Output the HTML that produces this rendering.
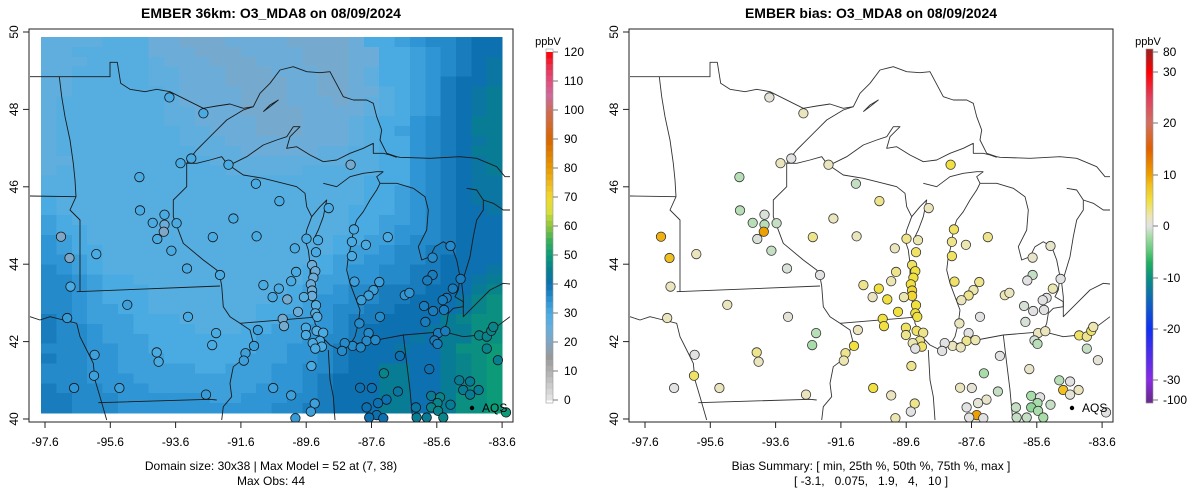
<!DOCTYPE html>
<html><head><meta charset="utf-8"><title>EMBER O3_MDA8</title>
<style>
html,body{margin:0;padding:0;background:#fff;}
svg{display:block;font-family:"Liberation Sans",Arial,sans-serif;}
</style></head>
<body>
<svg id="fig" width="1200" height="502" viewBox="0 0 1200 502" xmlns="http://www.w3.org/2000/svg">
<defs>
<clipPath id="clipBox"><rect x="29" y="29" width="484" height="393"/></clipPath>
<clipPath id="clipBox2"><rect x="629" y="29" width="484" height="393"/></clipPath>
</defs>
<g id="panelL"></g>
<g id="panelR"></g>
<text x="271" y="18" text-anchor="middle" font-size="14" font-weight="bold">EMBER 36km: O3_MDA8 on 08/09/2024</text>
<text x="871" y="18" text-anchor="middle" font-size="14" font-weight="bold">EMBER bias: O3_MDA8 on 08/09/2024</text>
<text x="271" y="470" text-anchor="middle" font-size="12">Domain size: 30x38 | Max Model = 52 at (7, 38)</text>
<text x="271" y="485" text-anchor="middle" font-size="12">Max Obs: 44</text>
<text x="871" y="470" text-anchor="middle" font-size="12">Bias Summary: [ min, 25th %, 50th %, 75th %, max ]</text>
<text x="871" y="485" text-anchor="middle" font-size="12" xml:space="preserve">[ -3.1,   0.075,   1.9,   4,   10 ]</text>
</svg>
<script>
// ---------- DATA ----------
const xTicks = [-97.6,-95.6,-93.6,-91.6,-89.6,-87.6,-85.6,-83.6];
const yTicks = [40,42,44,46,48,50];
const modelTicks = [0,10,20,30,40,50,60,70,80,90,100,110,120];
const biasTicks = [-100,-30,-20,-10,0,10,20,30,80];
// model grid rows (north->south), each char a level: a=20 ... step 2 ppbV
const gridRows = [
"ddddeeeccbbbccccbbbbcffghiijkk",
"ddeeeeecccbbbccccbbbccffghijkk",
"dddeeeedcccbbbcccbbbccffghijkl",
"ddeeeeeddcccbbbcccbbcdffghijkl",
"ddeeeeeddcccbbbbccbbcdffghjkkl",
"ddeeeeeedccccbbbccbbccefghjklm",
"deeeeeeedccccbbbcccbcdefghjklm",
"deeeeeeeddcccbbbbccccdefghjklm",
"deeeeeeeddccccbbbcccdeffhijkmm",
"deeeeeeeeddcccbbbcccdefghijkmm",
"deeeeeeeedddccccccccdeffhijklm",
"deeeeeeeeedddcccccddeeffhijkmm",
"ddeeeeeeeeedddddddddeeffhijklm",
"deeeeeeeeeeedddddeeeeeffhijklm",
"eeeeeeeeeeeeeeeeeeeeefffhijkll",
"eeeeeeeeeeeeeeeeeeeeeffghijkll",
"feeeeeeeeeeeeeeeeeeeeffghijkll",
"feeeeeeeeeeeeeeeeeeefffghijkkl",
"gfeeeeeeeeeeeeeeeeeeffgghijkkk",
"gffeeeeeeeeeeeeeeeeeffghhijkkk",
"hgfeeeeeeeeeeeeeeeeffgghiijkkk",
"hgffeeeeeeeeeeeeeeefgghiijjkkk",
"hhgfeeeeeeeeeeeeeefgghhiijkkkk",
"ihgfeeeeeeeeeeeeeffghhiijjkkkl",
"iihgffeeeeeeeeeeefgghhiijjkklm",
"iihgfffeeeeeeeeefgghiijjjkkkmn",
"iihgfffeeeeeeeeffghhiijjkkklno",
"iihggffeeeeeeefffghiijjkkkklno",
"jihgggfffeeeeeffgghijjkkkkmnoo",
"jiihggffffeeeffgghhijkkkklmmoo",
"jiihgggfffffffggghiijkkklkmmoo",
"iiihhggfffffffgghhijkkklkkmoop",
"jiihhgggfffffggghhijkkkkkkmnop",
"iiihhgggggffggghhiijkkmmkkmnop",
"iiihhhggggggggghhijkkkmmkkmnop",
"jiiihhhggggggghhhijkkkmmkkmnop",
"jjiiihhhhhhgghhhiijkkkmmkkmoop",
"jjiiihhhhhhhhhhiijjkkkmmkkmoop"];
const stationLon = [-93.79,-92.75,-93.45,-93.12,-91.98,-94.71,-91.14,-90.42,-88.24,-94.69,-93.94,-94.30,-93.94,-93.57,-93.96,-94.16,-93.73,-97.11,-96.85,-96.03,-93.25,-92.24,-96.82,-91.83,-92.46,-91.12,-89.95,-89.59,-89.24,-89.30,-89.42,-89.32,-89.38,-89.91,-90.06,-89.46,-89.42,-89.42,-89.67,-90.91,-90.44,-90.63,-90.18,-89.30,-89.85,-89.32,-89.26,-90.32,-90.28,-89.61,-89.61,-89.28,-89.08,-89.18,-89.40,-89.12,-89.32,-88.91,-88.14,-88.20,-87.77,-88.20,-87.10,-88.12,-87.36,-87.54,-87.69,-87.91,-86.58,-86.44,-85.18,-85.73,-85.73,-85.89,-84.87,-85.11,-85.30,-85.42,-85.99,-85.71,-85.38,-87.34,-87.97,-85.95,-87.69,-87.75,-87.48,-88.18,-88.42,-88.50,-87.93,-85.56,-85.34,-85.67,-85.58,-84.30,-84.07,-83.93,-83.87,-84.07,-83.73,-86.73,-85.83,-87.22,-84.91,-84.58,-84.79,-84.32,-84.58,-87.95,-87.59,-86.79,-87.14,-87.40,-87.75,-87.44,-85.77,-85.50,-85.58,-85.77,-85.56,-85.18,-86.24,-89.44,-90.61,-90.06,-89.34,-89.46,-92.67,-95.32,-96.71,-96.10,-96.08,-96.92,-95.08,-93.22,-92.36,-92.48,-94.18,-94.12,-91.08,-91.20,-91.46,-91.51,-83.48,-89.93,-86.22,-85.91,-85.40,-87.67,-87.24];
const stationLat = [48.31,47.90,46.61,46.73,46.57,46.25,46.08,45.63,46.57,45.39,45.28,45.07,45.02,45.06,44.84,44.65,44.35,44.71,44.16,44.26,43.89,43.72,43.42,45.18,44.70,44.72,44.41,44.66,44.62,44.31,43.98,43.82,43.65,43.80,43.56,43.48,43.32,43.18,43.15,43.46,43.37,43.15,43.09,42.94,42.77,42.73,42.64,42.59,42.40,42.36,42.17,42.28,42.23,42.02,41.96,41.87,41.82,45.45,44.90,44.58,44.50,44.21,44.70,43.55,43.54,43.33,43.19,43.07,43.20,43.26,44.47,44.17,43.72,43.58,43.62,43.37,43.13,43.07,42.92,42.79,42.82,42.64,42.47,42.51,42.22,42.02,42.04,41.89,41.96,41.76,41.85,42.22,42.27,42.03,41.94,42.16,42.13,42.28,42.38,41.82,41.52,41.63,41.29,41.18,41.00,40.97,40.75,40.75,40.63,40.81,40.80,40.71,40.50,40.41,40.30,40.10,40.60,40.56,40.41,40.30,40.21,40.37,40.30,41.37,40.80,40.61,40.40,40.19,40.63,40.80,40.80,41.12,41.66,42.61,42.95,42.64,42.22,41.91,41.72,41.48,42.30,41.89,41.70,41.51,40.17,40.02,40.04,40.04,40.04,40.04,40.02];
const obsValues = [30,30,30,30,30,30,30,30,22,30,30,30,24,30,20,30,30,20,20,30,30,30,30,30,30,30,30,30,30,30,24,24,24,30,30,24,24,24,28,30,30,30,22,28,24,28,28,22,22,30,30,28,30,30,30,30,30,30,30,30,30,30,30,32,32,32,32,32,34,34,36,36,38,38,38,38,38,38,38,38,38,36,36,38,36,36,36,36,36,36,36,38,38,38,38,46,46,46,46,46,45,40,40,46,44,44,44,44,44,40,40,42,40,40,40,40,44,46,46,46,46,44,42,30,32,32,32,32,33,32,34,32,32,33,32,30,30,30,30,30,32,32,32,32,50,33,44,44,46,40,40];
const biasValues = [0.5,1.5,1.5,0,1.5,-1.5,-1,3,5,-1.5,-0.3,-1.5,-1.5,-1,10,-0.3,-1,9,8,1.5,-0.3,0,1.5,1.5,3,1.5,1.5,3,2,4,4,5,5,3,2,5,6,6,2,3,5,1.5,5,5,5,5,5,5,5,4,3,4,3,3,2,4,0,1.5,4,3,2,4,3,4,3,2,3,1.5,2,1.5,1,1,-1,0,0,2,0,0,-0.5,0,0,0,1.5,-0.5,0,3,2,1.5,0,0,1.5,1.5,1.5,-0.5,-1.5,4,3,4,2,-1,0.5,0,1,-2,-1.5,0,8,1.5,0.5,1.5,0.5,-1,1,0.5,0,10,-2,0,-2,-3,-2,-1,-1,3,5,1.5,3,0,1.5,1.5,0,4,0,1.5,1.5,0.5,-1.5,-2,3,1.5,1.5,5,3,2,0,2,-1,-1,-2,0,0];

// ---------- SCALES ----------
const X = lon => 45 + (lon + 97.6) * 32.65;
const Y = lat => 419 - (lat - 40) * 38.7;
const gridLon0 = -97.72, gridLon1 = -83.60, gridLatTop = 49.87, gridLatBot = 40.155;

const modelStops = [[0,"#e6e6e6"],[10,"#b0b0b0"],[15,"#989898"],[20,"#7fa6c4"],[25,"#66afdd"],[30,"#4aabe2"],[35,"#2a90d0"],[40,"#0d70b0"],[45,"#087f8e"],[50,"#0c9a78"],[55,"#3aaf5a"],[60,"#8cc43f"],[65,"#d6df3c"],[70,"#f0d92c"],[75,"#eeb820"],[80,"#e69a00"],[90,"#d86500"],[100,"#cc6c5a"],[105,"#cc6a9a"],[110,"#e05080"],[115,"#e83050"],[120,"#ff0000"]];
const biasStops = [[-100,"#6a2a90"],[-30,"#8a2be2"],[-20,"#1030f0"],[-15,"#1060c0"],[-10,"#0a9080"],[-7,"#20b060"],[-5,"#5ac878"],[-2,"#a8dca8"],[0,"#e2e2e2"],[2,"#ece6b0"],[5,"#f0e040"],[8,"#f0c020"],[10,"#eea000"],[15,"#e06000"],[20,"#d07060"],[25,"#e04060"],[30,"#ff0000"],[80,"#a02020"]];
function hex(c){return [parseInt(c.substr(1,2),16),parseInt(c.substr(3,2),16),parseInt(c.substr(5,2),16)];}
function ramp(stops,v){
  if(v<=stops[0][0]) return stops[0][1];
  for(let i=1;i<stops.length;i++){
    if(v<=stops[i][0]){
      const t=(v-stops[i-1][0])/(stops[i][0]-stops[i-1][0]);
      const a=hex(stops[i-1][1]), b=hex(stops[i][1]);
      return "rgb("+a.map((x,k)=>Math.round(x+(b[k]-x)*t)).join(",")+")";
    }
  }
  return stops[stops.length-1][1];
}
const biasTickY = [400,380,329,278,226,175,123,72,52];
function biasY(v){
  for(let i=1;i<biasTicks.length;i++){
    if(v<=biasTicks[i]){const t=(v-biasTicks[i-1])/(biasTicks[i]-biasTicks[i-1]);return biasTickY[i-1]+(biasTickY[i]-biasTickY[i-1])*t;}
  }
  return 52;
}

// ---------- OUTLINES (basemap, traced) ----------
const outlines = [
[[0,140],[240,140],[240,97],[262,97],[272,160],[300,178],[345,185],[380,178],[420,185],[460,205],[490,220],[520,235],[560,228],[600,222],[640,235],[670,230],[690,190],[720,160],[750,120],[790,110],[830,125],[870,128],[900,125],[940,200],[970,210],[1010,210],[1030,220],[1040,260],[1055,300],[1050,330],[1070,370],[1100,380],[1110,382],[1200,385],[1290,380],[1340,385],[1400,410],[1425,440],[1440,440]],
[[670,230],[640,240],[590,270],[540,320],[500,360],[480,385],[470,400],[500,400],[540,390],[575,380],[590,400],[610,400],[650,380],[700,345],[740,330],[770,320],[790,290],[810,290],[780,320],[770,355],[800,350],[840,375],[880,395],[920,390],[960,370],[1000,355],[1030,340],[1030,370],[1060,370],[1080,375],[1100,382]],
[[700,245],[720,225],[745,210],[720,230],[700,245]],
[[596,405],[640,435],[700,445],[760,460],[800,470],[825,490],[830,530],[845,560],[830,600],[825,630],[835,660],[840,700],[840,760],[845,800],[850,840],[855,880],[870,910],[885,930],[900,945],[930,960],[960,945],[975,920],[985,880],[990,840],[975,800],[960,760],[950,720],[955,680],[965,640],[970,600],[980,570],[1000,545],[1020,510],[1040,480],[1050,460],[1040,440],[1060,425]],
[[845,560],[870,530],[890,510],[880,560],[865,600],[855,620]],
[[880,460],[920,470],[960,440],[1000,430],[1040,425],[1060,425]],
[[1050,460],[1100,460],[1150,475],[1185,500],[1195,540],[1190,600],[1165,650],[1175,690],[1200,680],[1215,650],[1240,635],[1265,650],[1280,690],[1290,740],[1285,780],[1275,800],[1300,815],[1300,830],[1270,835],[1255,850],[1250,880],[1240,905],[1260,910],[1300,920],[1350,915],[1400,890],[1440,860]],
[[1310,475],[1340,480],[1360,510],[1360,540],[1340,570],[1330,620],[1320,680],[1305,730],[1295,760],[1300,800],[1300,860],[1340,820],[1380,780],[1420,760],[1440,762]],
[[1360,510],[1390,520],[1420,540],[1440,540]],
[[88,140],[95,200],[105,260],[120,330],[130,400],[135,450],[138,500],[120,540],[150,570],[150,785]],
[[0,498],[138,500]],
[[140,785],[570,768]],
[[470,400],[470,470],[430,510],[430,560],[460,640],[520,690],[560,720],[570,740],[575,768],[580,830],[600,860],[630,880],[660,900],[670,940],[650,980],[610,1010],[600,1060],[605,1100],[580,1130],[575,1170]],
[[630,880],[850,862]],
[[0,860],[30,870],[60,860],[100,870],[140,880],[150,920],[170,960],[190,1000],[195,1050],[210,1100],[230,1170]],
[[205,1118],[540,1108],[560,1110]],
[[895,960],[900,1050],[910,1100],[915,1170]],
[[960,945],[1120,915],[1240,905]],
[[1120,915],[1130,1000],[1140,1080],[1148,1170]]
];

const NS="http://www.w3.org/2000/svg";
function mk(tag,attrs,parent){const e=document.createElementNS(NS,tag);for(const k in attrs)e.setAttribute(k,attrs[k]);parent.appendChild(e);return e;}

function drawPanel(g, off, isBias){
  const clip = isBias ? "url(#clipBox2)" : "url(#clipBox)";
  const plot = mk("g",{"clip-path":clip},g);
  
  
  if(!isBias){
    const grid = mk("g",{"shape-rendering":"crispEdges"},plot);
    
    
    const nr=gridRows.length, nc=gridRows[0].length;
    const dLon=(gridLon1-gridLon0)/nc, dLat=(gridLatTop-gridLatBot)/nr;
    for(let r=0;r<nr;r++)for(let c=0;c<nc;c++){
      const v=20+2*(gridRows[r].charCodeAt(c)-97);
      const x0=X(gridLon0+c*dLon)+off, x1=X(gridLon0+(c+1)*dLon)+off;
      const y0=Y(gridLatTop-r*dLat), y1=Y(gridLatTop-(r+1)*dLat);
      const cell=mk("rect",{x:x0.toFixed(2),y:y0.toFixed(2),width:(x1-x0+0.6).toFixed(2),height:(y1-y0+0.6).toFixed(2),fill:ramp(modelStops,v)},grid);
      
      
    }
  }
  const ol = mk("g",{fill:"none",stroke:isBias?"#333":"#1a1a1a","stroke-width":"0.9","stroke-linejoin":"round"},plot);
  
  
  outlines.forEach(line=>{
    const pts=line.map(p=>(off+30+p[0]/3).toFixed(1)+","+(30+p[1]/3).toFixed(1)).join(" ");
    const pl=mk("polyline",{points:pts},ol);
    
    
  });
  const st = mk("g",{},plot);
  
  
  for(let i=0;i<stationLon.length;i++){
    const col = isBias ? ramp(biasStops,biasValues[i]) : ramp(modelStops,obsValues[i]);
    const c=mk("circle",{cx:(X(stationLon[i])+off).toFixed(1),cy:Y(stationLat[i]).toFixed(1),r:"4.7",fill:col,stroke:isBias?"#333":"#111","stroke-width":"0.8"},st);
    
    
  }
  const lg=mk("circle",{cx:472+off,cy:408,r:"2.2",fill:"#000"},plot);
  
  
  const lt=mk("text",{x:482+off,y:412,"font-size":"12"},plot);lt.textContent="AQS";
  
  
  const box=mk("rect",{x:29+off,y:29,width:484,height:393,fill:"none",stroke:"#222","stroke-width":"1"},g);
  
  
  const xa=mk("g",{},g);
  
  
  mk("line",{x1:X(xTicks[0])+off,x2:X(xTicks[xTicks.length-1])+off,y1:422,y2:422,stroke:"#222"},xa);
  xTicks.forEach(t=>{
    const x=X(t)+off;
    mk("line",{x1:x,x2:x,y1:422,y2:428,stroke:"#222"},xa);
    const tx=mk("text",{x:x,y:446,"text-anchor":"middle","font-size":"12"},xa);tx.textContent=t.toFixed(1);
    
    
  });
  const ya=mk("g",{},g);
  
  
  mk("line",{x1:29+off,x2:29+off,y1:Y(40),y2:Y(50),stroke:"#222"},ya);
  yTicks.forEach(t=>{
    const y=Y(t);
    mk("line",{x1:23+off,x2:29+off,y1:y,y2:y,stroke:"#222"},ya);
    const tx=mk("text",{x:0,y:0,"text-anchor":"middle","font-size":"12",transform:"translate("+(18+off)+","+y+") rotate(-90)"},ya);tx.textContent=String(t);
    
    
  });
  const cb=mk("g",{},g);
  
  
  const cx0=546+off;
  if(!isBias){
    const y0=400, y1=52;
    for(let v=0; v<120; v+=2){
      const ya1=y0+(y1-y0)*(v/120), yb=y0+(y1-y0)*((v+2)/120);
      mk("rect",{x:cx0,y:(yb).toFixed(2),width:7,height:(ya1-yb+0.5).toFixed(2),fill:ramp(modelStops,v+1)},cb);
    }
    mk("rect",{x:cx0,y:49,width:7,height:354,fill:"none",stroke:"#999","stroke-width":"0.6"},cb);
    modelTicks.forEach(t=>{
      const y=y0+(y1-y0)*(t/120);
      mk("line",{x1:cx0+7,x2:cx0+12,y1:y,y2:y,stroke:"#777"},cb);
      const tx=mk("text",{x:cx0+18,y:y+4,"font-size":"12"},cb);tx.textContent=String(t);
      
      
    });
  } else {
    for(let y=49;y<403;y++){
      let v=80;
      for(let i=1;i<biasTicks.length;i++){ if(y+0.5>=biasTickY[i]){const t=(y+0.5-biasTickY[i-1])/(biasTickY[i]-biasTickY[i-1]);v=biasTicks[i-1]+(biasTicks[i]-biasTicks[i-1])*t;break;} }
      if(y+0.5>400) v=-100;
      mk("rect",{x:cx0,y:y,width:7,height:1.2,fill:ramp(biasStops,v)},cb);
    }
    mk("rect",{x:cx0,y:49,width:7,height:354,fill:"none",stroke:"#999","stroke-width":"0.6"},cb);
    biasTicks.forEach(t=>{
      const y=biasY(t);
      mk("line",{x1:cx0+7,x2:cx0+12,y1:y,y2:y,stroke:"#777"},cb);
      const tx=mk("text",{x:cx0+17,y:y+4,"font-size":"12"},cb);tx.textContent=String(t);
      
      
    });
  }
  const u=mk("text",{x:cx0+2,y:45,"text-anchor":"middle","font-size":"11"},cb);u.textContent="ppbV";
  
  
}
drawPanel(document.getElementById("panelL"),0,false);
drawPanel(document.getElementById("panelR"),600,true);
</script>
</body></html>
